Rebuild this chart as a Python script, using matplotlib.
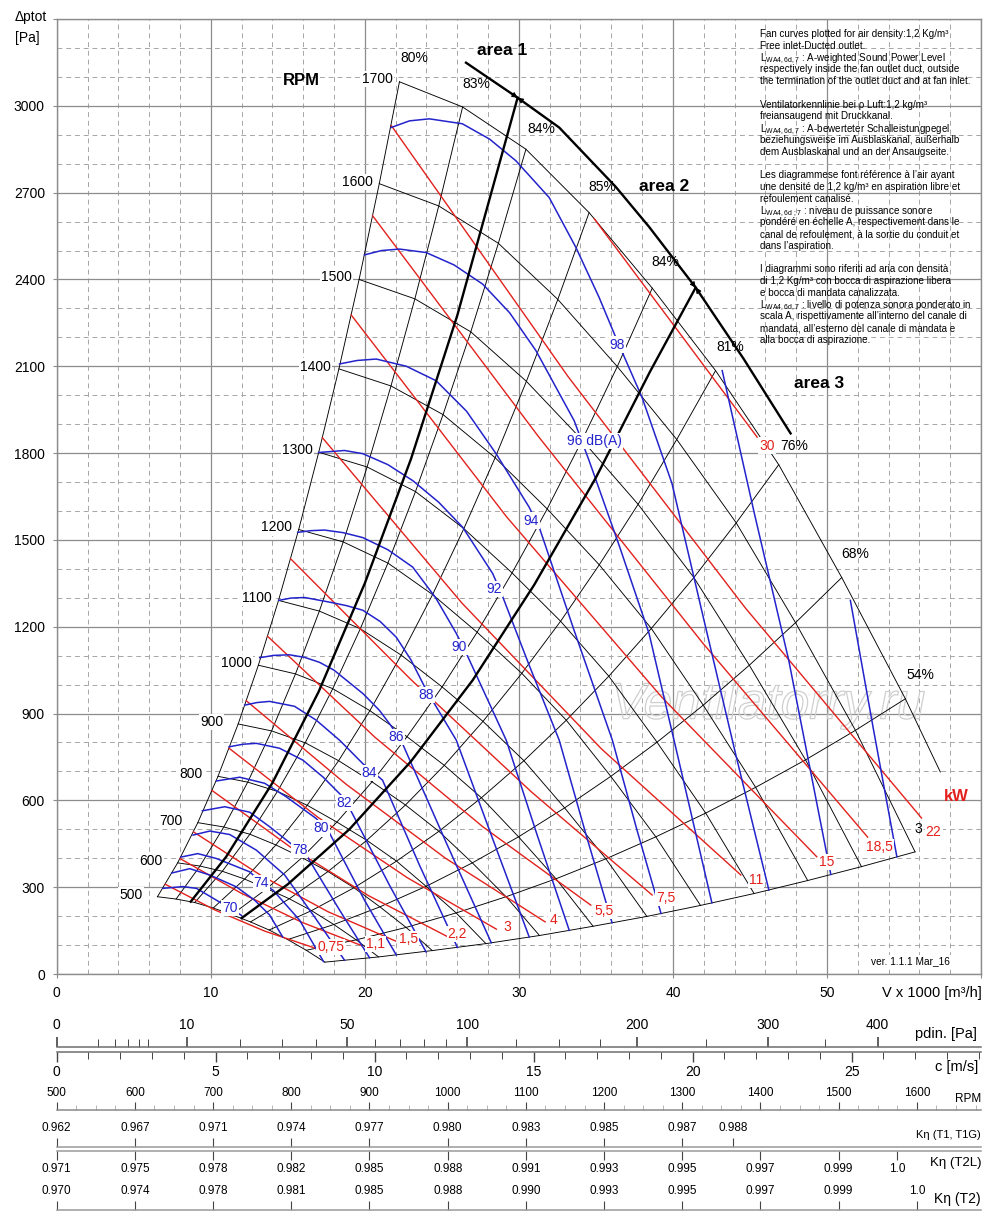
import numpy as np
import matplotlib
matplotlib.use('Agg')
import matplotlib.pyplot as plt
from matplotlib import patheffects

plt.rcParams['font.family'] = ['Liberation Sans', 'DejaVu Sans']
plt.rcParams['mathtext.fontset'] = 'custom'
plt.rcParams['mathtext.rm'] = 'Liberation Sans'
plt.rcParams['mathtext.it'] = 'Liberation Sans'
NARROW = ['Liberation Sans Narrow', 'Liberation Sans', 'DejaVu Sans']

# ---------------- data ----------------
rpm_values = [500, 600, 700, 800, 900, 1000, 1100, 1200, 1300, 1400, 1500, 1600, 1700]

# RPM curves, points where the efficiency lines cross them (V x1000 m3/h, Pa)
v_500 = [6.54, 7.75, 8.96, 10.16, 11.37, 12.58, 13.79, 14.99, 16.20, 17.41]
p_500 = [267, 259, 247, 228, 205, 180, 152, 119, 82, 41]
v_600 = [7.85, 9.30, 10.75, 12.20, 13.64, 15.10, 16.54, 17.99, 19.44, 20.89]
p_600 = [384, 373, 355, 328, 295, 260, 219, 171, 118, 59]
v_700 = [9.16, 10.85, 12.54, 14.23, 15.92, 17.61, 19.30, 20.98, 22.68, 24.38]
p_700 = [523, 508, 483, 446, 402, 354, 298, 232, 161, 81]
v_800 = [10.47, 12.40, 14.33, 16.26, 18.19, 20.13, 22.06, 23.98, 25.93, 27.86]
p_800 = [683, 663, 631, 583, 525, 462, 390, 303, 211, 105]
v_900 = [11.78, 13.95, 16.13, 18.30, 20.47, 22.64, 24.81, 26.98, 29.17, 31.34]
p_900 = [864, 840, 799, 737, 664, 584, 493, 384, 267, 133]
v_1000 = [13.09, 15.50, 17.92, 20.33, 22.74, 25.16, 27.57, 29.98, 32.41, 34.82]
p_1000 = [1067, 1037, 986, 910, 820, 721, 609, 474, 329, 165]
v_1100 = [14.40, 17.05, 19.71, 22.36, 25.02, 27.67, 30.33, 32.97, 35.65, 38.31]
p_1100 = [1291, 1254, 1193, 1102, 992, 873, 737, 574, 398, 199]
v_1200 = [15.71, 18.60, 21.50, 24.40, 27.29, 30.19, 33.08, 35.97, 38.89, 41.79]
p_1200 = [1536, 1493, 1420, 1311, 1181, 1039, 877, 683, 474, 237]
v_1300 = [17.01, 20.15, 23.29, 26.43, 29.56, 32.71, 35.84, 38.97, 42.13, 45.27]
p_1300 = [1803, 1752, 1667, 1539, 1386, 1219, 1029, 801, 556, 278]
v_1400 = [18.32, 21.70, 25.08, 28.46, 31.84, 35.22, 38.60, 41.97, 45.37, 48.75]
p_1400 = [2091, 2032, 1933, 1784, 1607, 1414, 1194, 929, 645, 323]
v_1500 = [19.63, 23.25, 26.88, 30.49, 34.11, 37.74, 41.36, 44.96, 48.61, 52.24]
p_1500 = [2400, 2333, 2219, 2048, 1845, 1623, 1370, 1067, 740, 371]
v_1600 = [20.94, 24.80, 28.67, 32.53, 36.39, 40.25, 44.11, 47.96, 51.85, 55.72]
p_1600 = [2731, 2654, 2525, 2331, 2099, 1847, 1559, 1214, 842, 422]
v_1700 = [22.25, 26.35, 30.46, 34.56, 38.66, 42.77, 46.87, 50.96, 55.09, 57.36]
p_1700 = [3083, 2996, 2850, 2631, 2370, 2085, 1760, 1370, 951, 698]

rpm_lab_v = [5.59, 6.87, 8.17, 9.46, 10.80, 12.64, 13.95, 15.25, 16.61, 17.82, 19.18, 20.50, 21.82]
rpm_lab_p = [273, 391, 529, 690, 871, 1076, 1298, 1543, 1812, 2099, 2409, 2738, 3092]

eff_text = ['80%', '83%', '84%', '85%', '84%', '81%', '76%', '68%', '54%']
eff_lab_v = [23.22, 27.24, 31.43, 35.42, 39.53, 43.75, 47.85, 51.85, 56.06]
eff_lab_p = [3165, 3076, 2919, 2718, 2461, 2165, 1826, 1452, 1032]

# sound power curves dB(A)
db70_v = [6.91, 8.19, 9.07, 10.37, 11.23, 12.01]
db70_p = [296, 302, 296, 255, 228, 202]
db72_v = [7.47, 8.64, 9.94, 11.67, 12.85, 13.82, 14.67]
db72_p = [349, 364, 342, 301, 255, 204, 128]
db74_v = [8.06, 9.16, 10.37, 12.53, 13.31, 14.04, 15.77, 17.32]
db74_p = [404, 416, 399, 353, 314, 290, 186, 43]
db76_v = [8.85, 9.94, 11.23, 12.96, 14.80, 16.74, 18.68]
db76_p = [480, 494, 482, 428, 342, 197, 48]
db78_v = [9.46, 10.91, 12.53, 13.82, 15.33, 16.20, 18.36, 20.31]
db78_p = [564, 578, 559, 509, 445, 411, 221, 56]
db80_v = [10.37, 11.88, 13.50, 14.91, 16.85, 17.71, 19.98, 22.04]
db80_p = [667, 680, 659, 612, 537, 487, 255, 66]
db82_v = [11.19, 12.10, 12.96, 14.47, 15.98, 17.3, 18.57, 19.01, 21.60, 23.98]
db82_p = [785, 794, 797, 780, 739, 680, 612, 573, 307, 76]
db84_v = [12.20, 13.00, 13.82, 15.44, 16.85, 18.40, 19.87, 21.15, 23.55, 26.01]
db84_p = [929, 938, 942, 925, 877, 806, 727, 670, 376, 92]
db86_v = [13.18, 14.10, 15.12, 16.10, 17.06, 18.00, 18.81, 19.90, 20.95, 21.70, 22.44, 25.36, 28.21]
db86_p = [1093, 1101, 1103, 1094, 1077, 1050, 1015, 968, 911, 858, 797, 445, 108]
db88_v = [14.41, 15.20, 16.09, 17.71, 18.80, 19.87, 21.00, 22.04, 23.00, 24.00, 25.94, 28.21, 30.67]
db88_p = [1291, 1299, 1301, 1285, 1273, 1257, 1218, 1164, 1085, 980, 808, 480, 128]
db90_v = [15.64, 16.50, 17.39, 18.60, 19.87, 21.50, 23.11, 24.60, 25.94, 26.59, 29.18, 31.19, 33.27]
db90_p = [1526, 1532, 1534, 1525, 1508, 1466, 1406, 1300, 1177, 1108, 808, 480, 151]
db92_v = [17.00, 18.68, 19.87, 21.50, 23.11, 24.80, 26.35, 28.30, 28.92, 30.67, 32.62, 34.37, 36.05]
db92_p = [1802, 1809, 1798, 1760, 1705, 1630, 1544, 1384, 1308, 1067, 808, 480, 177]
db94_v = [18.36, 19.50, 20.74, 22.70, 24.63, 26.60, 28.52, 30.67, 31.32, 33.59, 36.07, 37.67, 39.23]
db94_p = [2108, 2120, 2125, 2100, 2050, 1945, 1798, 1613, 1544, 1187, 808, 497, 209]
db96_v = [19.98, 21.10, 22.25, 23.98, 25.80, 27.65, 29.40, 31.11, 33.59, 34.56, 36.51, 38.45,
          40.53, 42.53]
db96_p = [2485, 2500, 2505, 2493, 2450, 2384, 2285, 2154, 1912, 1774, 1481, 1177, 704, 246]
db98_v = [21.71, 22.90, 24.19, 26.33, 28.10, 29.81, 31.97, 33.70, 35.21, 36.29, 38.00, 39.94,
          42.02, 44.09, 46.23]
db98_p = [2925, 2948, 2955, 2938, 2885, 2810, 2683, 2511, 2338, 2200, 1992, 1695, 1222, 756, 290]
db100_v = [43.20, 45.32, 47.52, 50.25]
db100_p = [2085, 1584, 1084, 344]
db102_v = [51.52, 53.03, 54.54]
db102_p = [1291, 842, 405]

db_text = ['70', '74', '78', '80', '82', '84', '86', '88', '90', '92', '94', '96 dB(A)', '98']
db_lab_v = [11.23, 13.29, 15.77, 17.17, 18.68, 20.31, 22.04, 23.98, 26.14, 28.41, 30.82, 34.89, 36.40]
db_lab_p = [227, 313, 428, 503, 591, 695, 819, 963, 1130, 1331, 1567, 1843, 2175]

# motor power lines kW
kw0_75_v = [7.05, 10.28, 13.51, 16.74]
kw0_75_p = [310, 221, 148, 90]
kw1_1_v = [8.00, 11.95, 15.90, 19.85]
kw1_1_p = [399, 280, 179, 97]
kw1_5_v = [8.88, 13.25, 17.62, 21.99]
kw1_5_p = [491, 341, 215, 114]
kw2_2_v = [10.09, 15.16, 20.23, 25.30]
kw2_2_p = [634, 439, 271, 131]
kw3_v = [11.19, 16.97, 22.75, 28.54]
kw3_p = [780, 541, 333, 155]
kw4_v = [12.31, 18.78, 25.24, 31.71]
kw4_p = [944, 656, 400, 180]
kw5_5_v = [13.69, 20.68, 27.68, 34.67]
kw5_5_p = [1167, 817, 508, 238]
kw7_5_v = [15.18, 23.00, 30.82, 38.65]
kw7_5_p = [1435, 1017, 629, 273]
kw11_v = [17.25, 26.30, 35.36, 44.41]
kw11_p = [1853, 1282, 778, 342]
kw15_v = [19.12, 29.20, 39.27, 49.34]
kw15_p = [2277, 1580, 957, 405]
kw18_5_v = [20.51, 31.23, 41.93, 52.64]
kw18_5_p = [2620, 1860, 1144, 473]
kw22_v = [21.73, 33.20, 44.67, 56.14]
kw22_p = [2931, 2064, 1267, 539]
kw30_v = [34.89, 40.18, 45.47]
kw30_p = [2610, 2233, 1855]

kw_text = ['0,75', '1,1', '1,5', '2,2', '3', '4', '5,5', '7,5', '11', '15', '18,5', '22', '30']
kw_lab_v = [17.78, 20.69, 22.83, 26.01, 29.25, 32.23, 35.53, 39.55, 45.38, 49.98, 53.42, 56.92, 46.10]
kw_lab_p = [93, 104, 121, 138, 162, 186, 218, 262, 324, 387, 438, 490, 1826]

# area borders and upper limit
area1_v = [8.7, 11.0, 14.0, 17.0, 20.0, 23.0, 26.0, 29.92]
area1_p = [250, 405, 660, 975, 1350, 1780, 2275, 3028]
area2_v = [12.0, 15.0, 19.0, 23.0, 27.0, 31.0, 35.0, 38.5, 41.48]
area2_p = [193, 310, 500, 735, 1015, 1345, 1715, 2080, 2372]
limit_v = [26.57, 29.92, 32.62, 36.29, 38.45, 41.48, 44.6, 47.64]
limit_p = [3149, 3028, 2925, 2720, 2582, 2372, 2125, 1868]

# bottom scales
pdin_major = [0, 10, 50, 100, 200, 300, 400]
pdin_minor = [1, 2, 3, 4, 5, 20, 30, 40, 60, 70, 80, 90, 125, 150, 175, 250, 350]
c_major = [0, 5, 10, 15, 20, 25]
c_minor = list(range(0, 30))
C_MAX = 29.07
RPM_MAX = 1682
rpm_scale_major = [500, 600, 700, 800, 900, 1000, 1100, 1200, 1300, 1400, 1500, 1600]
k1_rpm = [500, 600, 700, 800, 900, 1000, 1100, 1200, 1300, 1365]
k1_text = ['0.962', '0.967', '0.971', '0.974', '0.977', '0.980', '0.983', '0.985', '0.987', '0.988']
k2l_rpm = [500, 600, 700, 800, 900, 1000, 1100, 1200, 1300, 1400, 1500, 1575]
k2l_text = ['0.971', '0.975', '0.978', '0.982', '0.985', '0.988', '0.991', '0.993', '0.995',
            '0.997', '0.999', '1.0']
k2_rpm = [500, 600, 700, 800, 900, 1000, 1100, 1200, 1300, 1400, 1500, 1600]
k2_text = ['0.970', '0.974', '0.978', '0.981', '0.985', '0.988', '0.990', '0.993', '0.995',
           '0.997', '0.999', '1.0']

info_lines = [
    'Fan curves plotted for air density:1,2 Kg/m³',
    'Free inlet-Ducted outlet.',
    r'L$_{\mathrm{WA4,6d,7}}$ : A-weighted Sound Power Level',
    'respectively inside the fan outlet duct, outside',
    'the termination of the outlet duct and at fan inlet.',
    '',
    'Ventilatorkennlinie bei ρ Luft:1,2 kg/m³',
    'freiansaugend mit Druckkanal.',
    r'L$_{\mathrm{WA4,6d,7}}$ : A-bewerteter Schalleistungpegel',
    'beziehungsweise im Ausblaskanal, außerhalb',
    'dem Ausblaskanal und an der Ansaugseite.',
    '',
    'Les diagrammese font référence à l’air ayant',
    'une densité de 1,2 kg/m³ en aspiration libre et',
    'refoulement canalisé.',
    r'L$_{\mathrm{WA4,6d\ ;7}}$ : niveau de puissance sonore',
    'pondéré en échelle A, respectivement dans le',
    'canal de refoulement, à la sortie du conduit et',
    'dans l’aspiration.',
    '',
    'I diagrammi sono riferiti ad aria con densità',
    'di 1,2 Kg/m³ con bocca di aspirazione libera',
    'e bocca di mandata canalizzata.',
    r'L$_{\mathrm{WA4,6d,7}}$ : livello di potenza sonora ponderato in',
    'scala A, rispettivamente all’interno del canale di',
    'mandata, all’esterno del canale di mandata e',
    'alla bocca di aspirazione.',
]

# ---------------- drawing ----------------
BLUE = '#2323cc'
RED = '#e3211c'
GRID = '#8c8c8c'
W_PX, H_PX = 1000, 1219
X0, XW = 56.7 / W_PX, 924.3 / W_PX


def fy(py):
    return 1 - py / H_PX


fig = plt.figure(figsize=(10, 12.19), dpi=100)
ax = fig.add_axes([X0, fy(974), XW, 955 / H_PX])
ax.set_xlim(0, 60)
ax.set_ylim(0, 3300)
ax.set_xticks(range(0, 61, 10))
ax.set_xticklabels([str(t) if t < 60 else '' for t in range(0, 61, 10)])
ax.set_yticks(range(0, 3301, 300))
ax.set_yticklabels([str(t) if t < 3300 else '' for t in range(0, 3301, 300)])
ax.set_xticks(np.arange(0, 61, 2), minor=True)
ax.set_yticks(np.arange(0, 3301, 100), minor=True)
ax.grid(which='major', color=GRID, lw=0.9)
ax.grid(which='minor', color='#a6a6a6', lw=0.7, linestyle=(0, (5, 4)))
ax.tick_params(which='minor', length=0)
ax.tick_params(which='major', length=3, color=GRID, labelsize=10, pad=5.5)
ax.set_axisbelow(True)
for s in ax.spines.values():
    s.set_color(GRID)
    s.set_linewidth(1.0)

box = dict(boxstyle='square,pad=0.08', fc='white', ec='none')

# RPM curves and efficiency lines
rpm_curves = {500: (v_500, p_500), 600: (v_600, p_600), 700: (v_700, p_700),
              800: (v_800, p_800), 900: (v_900, p_900), 1000: (v_1000, p_1000),
              1100: (v_1100, p_1100), 1200: (v_1200, p_1200), 1300: (v_1300, p_1300),
              1400: (v_1400, p_1400), 1500: (v_1500, p_1500), 1600: (v_1600, p_1600),
              1700: (v_1700, p_1700)}
for n in rpm_values:
    ax.plot(rpm_curves[n][0], rpm_curves[n][1], color='black', lw=0.65, zorder=2)
for j in range(10):
    rows = rpm_values if j < 9 else rpm_values[:-1]
    ax.plot([rpm_curves[n][0][j] for n in rows], [rpm_curves[n][1][j] for n in rows],
            color='black', lw=0.65, zorder=2)

for t, x, y in zip(rpm_values, rpm_lab_v, rpm_lab_p):
    ax.text(x, y, str(t), ha='right', va='center', fontsize=10, bbox=box, zorder=6)
for t, x, y in zip(eff_text, eff_lab_v, eff_lab_p):
    ax.text(x, y, t, ha='center', va='center', fontsize=10, zorder=6)

# kW lines
kw_lines = [(kw0_75_v, kw0_75_p), (kw1_1_v, kw1_1_p), (kw1_5_v, kw1_5_p), (kw2_2_v, kw2_2_p),
            (kw3_v, kw3_p), (kw4_v, kw4_p), (kw5_5_v, kw5_5_p), (kw7_5_v, kw7_5_p),
            (kw11_v, kw11_p), (kw15_v, kw15_p), (kw18_5_v, kw18_5_p), (kw22_v, kw22_p),
            (kw30_v, kw30_p)]
for v, p in kw_lines:
    ax.plot(v, p, color=RED, lw=1.0, zorder=3)
for t, x, y in zip(kw_text, kw_lab_v, kw_lab_p):
    ax.text(x, y, t, ha='center', va='center', fontsize=10, color=RED, bbox=box, zorder=6)

# dB(A) lines
db_lines = [(db70_v, db70_p), (db72_v, db72_p), (db74_v, db74_p), (db76_v, db76_p),
            (db78_v, db78_p), (db80_v, db80_p), (db82_v, db82_p), (db84_v, db84_p),
            (db86_v, db86_p), (db88_v, db88_p), (db90_v, db90_p), (db92_v, db92_p),
            (db94_v, db94_p), (db96_v, db96_p), (db98_v, db98_p), (db100_v, db100_p),
            (db102_v, db102_p)]
for v, p in db_lines:
    ax.plot(v, p, color=BLUE, lw=1.1, zorder=3)
for t, x, y in zip(db_text, db_lab_v, db_lab_p):
    ax.text(x, y, t, ha='center', va='center', fontsize=10, color=BLUE, bbox=box, zorder=6)

# area borders
ax.plot(area1_v, area1_p, color='black', lw=1.7, zorder=4)
ax.plot(area2_v, area2_p, color='black', lw=1.7, zorder=4)
ax.plot(limit_v, limit_p, color='black', lw=1.7, zorder=4)
for (xj, yj), (xa, ya), (xb, yb) in [((29.92, 3028), (28.2, 3090), (31.6, 2964)),
                                     ((41.48, 2372), (40.0, 2475), (43.0, 2252))]:
    for xt, yt in [(xa, ya), (xb, yb)]:
        ax.annotate('', xy=(xj, yj), xytext=(xt, yt),
                    arrowprops=dict(arrowstyle='-|>', color='black', lw=0.8,
                                    mutation_scale=8, shrinkA=0, shrinkB=0), zorder=5)

ax.text(28.93, 3190, 'area 1', fontsize=12.5, fontweight='bold', ha='center', va='center', zorder=6)
ax.text(39.42, 2720, 'area 2', fontsize=12.5, fontweight='bold', ha='center', va='center', zorder=6)
ax.text(49.47, 2039, 'area 3', fontsize=12.5, fontweight='bold', ha='center', va='center', zorder=6)
ax.text(15.88, 3089, 'RPM', fontsize=12, fontweight='bold', ha='center', va='center', zorder=6)
ax.text(58.37, 614, 'kW', fontsize=12, fontweight='bold', color=RED, ha='center', va='center', zorder=6)
ax.text(55.95, 500, '3', fontsize=10, ha='center', va='center', zorder=6)
ax.text(55.41, 46, 'ver. 1.1.1 Mar_16', fontsize=7.3, ha='center', va='center', bbox=box, zorder=6)
ax.text(46.2, 929, 'Ventilatorry.ru', fontsize=37, style='italic', color=(1, 1, 1, 0),
        ha='center', va='center', zorder=1.5,
        path_effects=[patheffects.Stroke(linewidth=0.9, foreground='#cfcfcf')])

fig.text(0.015, fy(16.7), 'Δptot', fontsize=10, ha='left', va='center')
fig.text(0.015, fy(37.7), '[Pa]', fontsize=10, ha='left', va='center')
fig.text(0.9817, fy(993), 'V x 1000 [m³/h]', fontsize=10.5, ha='right', va='center')

for i, line in enumerate(info_lines):
    if line:
        fig.text(0.760, fy(33 + i * 11.77), line, fontsize=7.1, ha='left', va='center_baseline')


# ---------------- bottom scales ----------------
def make_scale(py, up, color='#808080'):
    a = fig.add_axes([X0, fy(py), XW, 1e-4])
    a.set_yticks([])
    a.patch.set_alpha(0)
    for s in ('left', 'right', 'top'):
        a.spines[s].set_visible(False)
    a.spines['bottom'].set_color(color)
    a.spines['bottom'].set_linewidth(1.1)
    a.tick_params(axis='x', which='both', top=up, bottom=not up, labeltop=up,
                  labelbottom=not up, direction='out', color='#444444')
    return a


ax_pd = make_scale(1046.7, True, '#6e6e6e')
ax_pd.set_xscale('function', functions=(lambda p: np.sqrt(np.clip(p, 0, None) / 0.6),
                                        lambda c: 0.6 * np.sign(c) * np.asarray(c) ** 2))
ax_pd.set_xlim(0, 0.6 * C_MAX ** 2)
ax_pd.set_xticks(pdin_major)
ax_pd.set_xticklabels([str(t) for t in pdin_major], fontsize=10)
ax_pd.set_xticks(pdin_minor, minor=True)
ax_pd.tick_params(which='major', length=7.5, width=1.2, pad=3)
ax_pd.tick_params(which='minor', length=6, width=0.7)

ax_c = make_scale(1052.3, False, '#6e6e6e')
ax_c.set_xlim(0, C_MAX)
ax_c.set_xticks(c_major)
ax_c.set_xticklabels([str(t) for t in c_major], fontsize=10)
ax_c.set_xticks(c_minor, minor=True)
ax_c.tick_params(which='major', length=7.5, width=1.0, pad=2)
ax_c.tick_params(which='minor', length=5, width=0.7)

ax_r = make_scale(1110, True, '#8a8a8a')
ax_r.set_xlim(500, RPM_MAX)
ax_r.set_xticks(rpm_scale_major)
ax_r.set_xticklabels([str(t) for t in rpm_scale_major], fontsize=8.5, family=NARROW)
ax_r.set_xticks(range(525, 1676, 25), minor=True)
ax_r.tick_params(which='major', length=6, width=0.8, pad=2)
ax_r.tick_params(which='minor', length=3.5, width=0.5, color='#999999')

for py, up, rpms, texts in [(1146.7, True, k1_rpm, k1_text), (1151, False, k2l_rpm, k2l_text),
                            (1210, True, k2_rpm, k2_text)]:
    a = make_scale(py, up, '#9a9a9a')
    a.set_xlim(500, RPM_MAX)
    a.set_xticks(rpms)
    a.set_xticklabels(texts, fontsize=8.5, family=NARROW)
    a.tick_params(which='major', length=6.5, width=0.8, pad=2.5)

fig.text(0.977, fy(1034), 'pdin. [Pa]', fontsize=10.5, ha='right', va='center')
fig.text(0.978, fy(1066.7), 'c [m/s]', fontsize=10.5, ha='right', va='center')
fig.text(0.981, fy(1099), 'RPM', fontsize=8.5, family=NARROW, ha='right', va='center')
fig.text(0.981, fy(1134.5), 'Kη (T1, T1G)', fontsize=8, family=NARROW, ha='right', va='center')
fig.text(0.981, fy(1162.7), 'Kη (T2L)', fontsize=9.5, family=NARROW, ha='right', va='center')
fig.text(0.981, fy(1199), 'Kη (T2)', fontsize=10, family=NARROW, ha='right', va='center')

fig.savefig('out.png', dpi=100)
